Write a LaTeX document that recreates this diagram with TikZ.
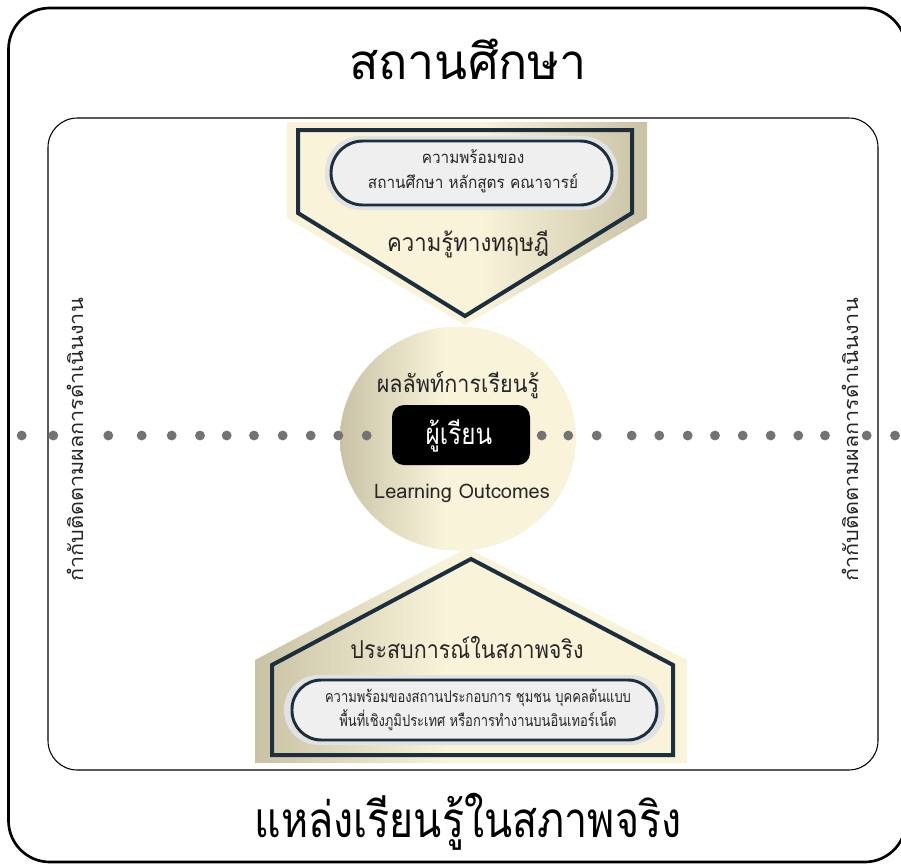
\documentclass[tikz,border=0pt]{standalone}
\usepackage{graphicx}
\usepackage{fontspec}
\newfontfamily\thai[Script=Thai]{Loma}
\usetikzlibrary{shapes.geometric}
\definecolor{navy}{HTML}{1B2F3E}
\definecolor{cream}{HTML}{F8F3D9}
\definecolor{taupe}{HTML}{C9C2A5}
\definecolor{dotgray}{HTML}{737373}
\definecolor{pillfill}{HTML}{EFEFEF}
\definecolor{halo}{HTML}{E2E2E2}
\definecolor{txt}{HTML}{262626}
\newcommand\hsq[2]{\scalebox{#1}[1]{#2}}
\pgfdeclarehorizontalshading{topshade}{100bp}{color(0bp)=(cream); color(25bp)=(cream); color(52bp)=(cream); color(75bp)=(taupe); color(100bp)=(taupe)}
\pgfdeclarehorizontalshading{leftdark}{100bp}{color(0bp)=(taupe); color(25bp)=(taupe); color(47bp)=(cream); color(75bp)=(cream); color(100bp)=(cream)}
\tikzset{
  frameline/.style={line width=2pt, draw=black},
  innerline/.style={line width=0.8pt, draw=black},
  navyline/.style={line width=3pt, draw=navy, line join=miter},
  pillhalo/.style={fill=halo},
  pill/.style={fill=pillfill, draw=navy, line width=2.2pt},
  dot/.style={fill=dotgray},
  lbl/.style={text=txt, font=\thai, inner sep=0pt, align=center},
}
\begin{document}
\begin{tikzpicture}[x=0.75pt,y=-0.75pt]
\useasboundingbox (0,0) rectangle (901,865);
% frames
\draw[frameline, rounded corners=31pt] (8.5,8) rectangle (906,862);
\draw[innerline, rounded corners=22pt] (48,118) rectangle (878,770);
% titles
\node[lbl, text=black, font=\thai\fontsize{37}{44}\selectfont] (title) at (468,59) {\hsq{0.98}{สถานศึกษา}};
\node[lbl, text=black, font=\thai\fontsize{37}{44}\selectfont] (bottomtitle) at (468,822) {\hsq{0.835}{แหล่งเรียนรู้ในสภาพจริง}};
% top pentagon
\shade[shading=topshade]
  (287,122) -- (647,122) -- (647,218) -- (465,325) -- (287,218) -- cycle;
\draw[navyline] (298,130) -- (632,130) -- (632,213) -- (465,316) -- (298,213) -- cycle;
\fill[pillhalo, rounded corners=27pt] (325,136) rectangle (618,210);
\draw[pill, rounded corners=24pt] (331,141) rectangle (612,205);
\node[lbl, font=\thai\fontsize{12.5}{18.5}\selectfont] (toptext) at (473,171) {\hsq{0.92}{ความพร้อมของ}\\\hsq{0.92}{สถานศึกษา หลักสูตร คณาจารย์}};
\node[lbl, font=\thai\fontsize{18.5}{22}\selectfont] (theory) at (468,244) {\hsq{0.9}{ความรู้ทางทฤษฎี}};
% bottom pentagon
\shade[shading=leftdark]
  (255,660) -- (467,548) -- (687,660) -- (687,763) -- (255,763) -- cycle;
\draw[navyline] (272,665) -- (471,559) -- (673,665) -- (673,755) -- (272,755) -- cycle;
\fill[pillhalo, rounded corners=26pt] (284,675) rectangle (665,745);
\draw[pill, rounded corners=22pt] (292,680) rectangle (657,740);
\node[lbl, font=\thai\fontsize{12}{18.5}\selectfont] (bottomtext) at (478,710) {\hsq{0.81}{ความพร้อมของสถานประกอบการ ชุมชน บุคคลต้นแบบ}\\\hsq{0.81}{พื้นที่เชิงภูมิประเทศ หรือการทำงานบนอินเทอร์เน็ต}};
\node[lbl, font=\thai\fontsize{18.5}{22}\selectfont] (experience) at (467,647) {\hsq{0.87}{ประสบการณ์ในสภาพจริง}};
% circle
\shade[shading=leftdark] (458,438.5) ellipse [x radius=88.5pt, y radius=84pt];
% dots
\foreach \x in {21.7,53.3,108.3,141.7,171.7,200,226.7,254,282.7,310.7,338.3,366.7,541.7,568.3,596.7,631.7,659.3,687.7,715,742.7,770.7,798.3,825,866.7,895}
  \fill[dot] (\x,435.5) circle (3.7pt);
% learner box
\node[fill=black, rounded corners=9pt, minimum width=103.5pt, minimum height=45pt, inner sep=0pt] (learnerbox) at (461,435) {};
\node[lbl, text=white, font=\thai\fontsize{22}{26}\selectfont] (learner) at (459,436) {\hsq{0.83}{ผู้เรียน}};
\node[lbl, font=\thai\fontsize{18}{22}\selectfont] (outcome) at (458,385) {\hsq{0.9}{ผลลัพท์การเรียนรู้}};
\node[lbl, font=\thai\fontsize{15}{18}\selectfont] (lo) at (462,493) {Learning Outcomes};
% side labels
\node[lbl, rotate=90, font=\thai\fontsize{15}{18}\selectfont] (leftside) at (75,440) {\hsq{1.08}{กำกับติดตามผลการดำเนินงาน}};
\node[lbl, rotate=90, font=\thai\fontsize{15}{18}\selectfont] (rightside) at (850,440) {\hsq{1.08}{กำกับติดตามผลการดำเนินงาน}};
\end{tikzpicture}
\end{document}
